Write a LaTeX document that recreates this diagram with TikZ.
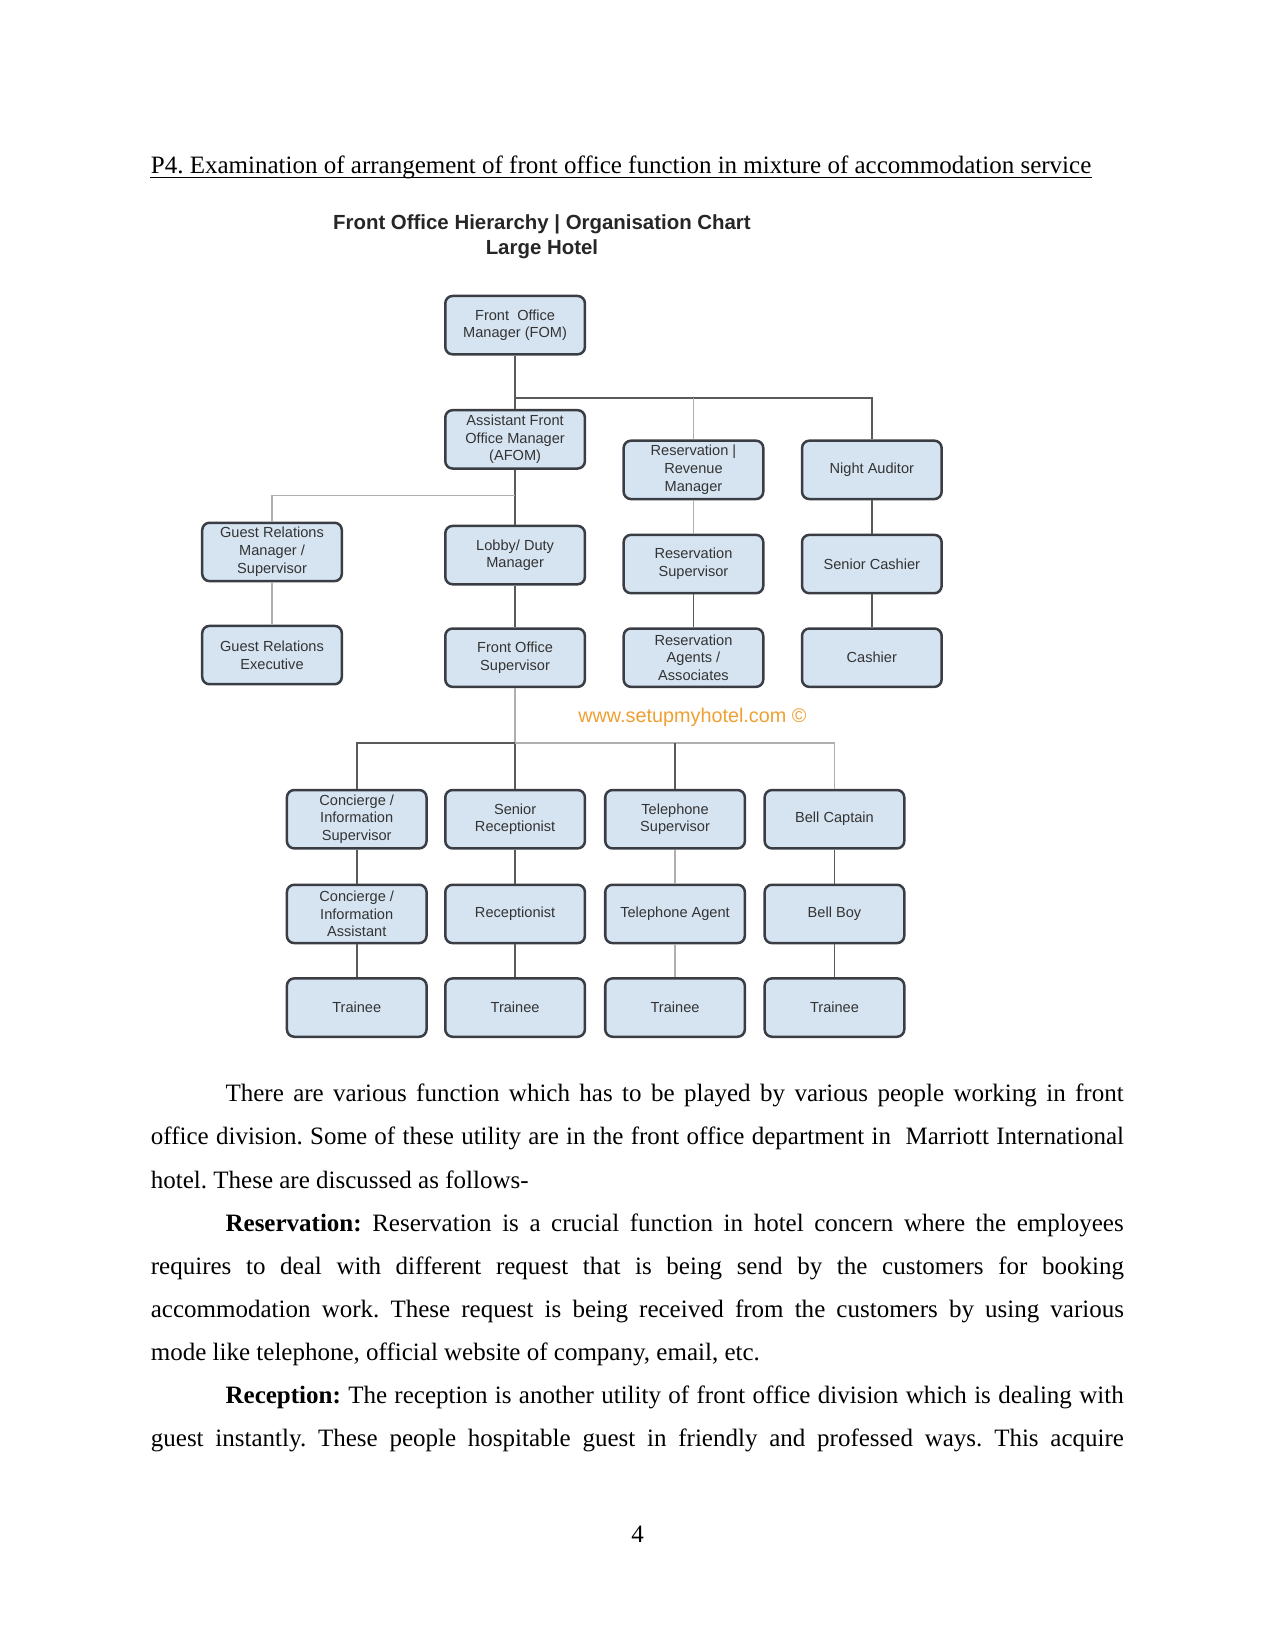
\documentclass[tikz,border=0pt]{standalone}
\usepackage{fontspec}
\setmainfont{Liberation Serif}
\newfontfamily\chartfont{Liberation Sans}
\definecolor{boxfill}{RGB}{214,228,242}
\definecolor{boxedge}{RGB}{58,62,68}
\definecolor{linkdark}{RGB}{90,90,90}
\definecolor{linklight}{RGB}{175,175,175}
\definecolor{wmcol}{RGB}{240,160,50}
\frenchspacing
\begin{document}
\begin{tikzpicture}[x=0.505pt,y=-0.505pt,
  role/.style={draw=boxedge, line width=1.2pt, fill=boxfill, rounded corners=3.5pt,
    minimum width=67pt, minimum height=28pt, inner sep=0pt, align=center,
    font=\chartfont\fontsize{7}{8.5}\selectfont, text=black!80},
  link/.style={draw=linkdark, line width=0.8pt},
  linkl/.style={draw=linklight, line width=0.8pt},
  bodyline/.style={anchor=base west, inner sep=0pt, font=\fontsize{12}{14}\selectfont}]
\useasboundingbox (0,0) rectangle (1212,1568);
\fill[white] (0,0) rectangle (1212,1568);

% heading
\node[bodyline] (title) at (143,165) {P4. Examination of arrangement of front office function in mixture of accommodation service};
\draw[line width=0.6pt] ([yshift=-1.8pt]title.base west) -- ([yshift=-1.8pt]title.base east);

% chart title
\node[font=\chartfont\bfseries\fontsize{9.8}{12}\selectfont, align=center, text=black!85] (ctitle) at (515,225)
  {Front Office Hierarchy | Organisation Chart\\Large Hotel};

% boxes
\node[role] (fom)    at (489.5,309)   {Front\ \ Office\\Manager (FOM)};
\node[role] (afom)   at (489.5,417.5) {Assistant Front\\Office Manager\\(AFOM)};
\node[role] (res)    at (659,446.5)   {Reservation |\\Revenue\\Manager};
\node[role] (night)  at (828.5,446.5) {Night Auditor};
\node[role] (grm)    at (258.5,524.5) {Guest Relations\\Manager /\\Supervisor};
\node[role] (lobby)  at (489.5,527.5) {Lobby/ Duty\\Manager};
\node[role] (ressup) at (659,536)     {Reservation\\Supervisor};
\node[role] (scash)  at (828.5,536)   {Senior Cashier};
\node[role] (gre)    at (258.5,622.5) {Guest Relations\\Executive};
\node[role] (fos)    at (489.5,625)   {Front Office\\Supervisor};
\node[role] (resag)  at (659,625)     {Reservation\\Agents /\\Associates};
\node[role] (cash)   at (828.5,625)   {Cashier};

\node[font=\chartfont\fontsize{9.5}{11}\selectfont, text=wmcol] (wm) at (658,682) {www.setupmyhotel.com \textcopyright};

\node[role] (cis)    at (339,778.5)   {Concierge /\\Information\\Supervisor};
\node[role] (srec)   at (489.5,778.5) {Senior\\Receptionist};
\node[role] (tsup)   at (641.5,778.5) {Telephone\\Supervisor};
\node[role] (bcap)   at (793,778.5)   {Bell Captain};
\node[role] (cia)    at (339,868.5)   {Concierge /\\Information\\Assistant};
\node[role] (recep)  at (489.5,868.5) {Receptionist};
\node[role] (tag)    at (641.5,868.5) {Telephone Agent};
\node[role] (bboy)   at (793,868.5)   {Bell Boy};
\node[role] (tr1)    at (339,957.5)   {Trainee};
\node[role] (tr2)    at (489.5,957.5) {Trainee};
\node[role] (tr3)    at (641.5,957.5) {Trainee};
\node[role] (tr4)    at (793,957.5)   {Trainee};

% connectors
\coordinate (j1) at (489.5,378);
\coordinate (j2) at (489.5,471);
\coordinate (j3) at (489.5,706);
\draw[link] (fom) -- (afom);
\draw[link] (j1) -| (night.north);
\draw[linkl] (res.north) -- (res.north |- j1);
\draw[link] (afom) -- (lobby);
\draw[linkl] (j2) -| (grm.north);
\draw[linkl] (grm) -- (gre);
\draw[link] (lobby) -- (fos);
\draw[linkl] (res) -- (ressup);
\draw[link] (ressup) -- (resag);
\draw[link] (night) -- (scash);
\draw[link] (scash) -- (cash);
\draw[linkl] (fos.south) -- (j3);
\draw[link] (j3) -| (cis.north);
\draw[link] (j3) -- (srec.north);
\draw[linkl] (j3) -| (bcap.north);
\draw[link] (tsup.north) -- (tsup.north |- j3);
\draw[link] (cis) -- (cia);
\draw[link] (cia) -- (tr1);
\draw[link] (srec) -- (recep);
\draw[link] (recep) -- (tr2);
\draw[linkl] (tsup) -- (tag);
\draw[linkl] (tag) -- (tr3);
\draw[link] (bcap) -- (bboy);
\draw[link] (bboy) -- (tr4);

% body text
\node[bodyline] (l1) at (214,1047) {\makebox[431pt][s]{There are various function which has to be played by various people working in front}};
\node[bodyline] (l2) at (143,1088) {\makebox[467pt][s]{office division. Some of these utility are in the front office department in\ \ Marriott International}};
\node[bodyline] (l3) at (143,1129) {hotel. These are discussed as follows-};
\node[bodyline] (l4) at (214,1170) {\makebox[431pt][s]{\textbf{Reservation:} Reservation is a crucial function in hotel concern where the employees}};
\node[bodyline] (l5) at (143,1211) {\makebox[467pt][s]{requires to deal with different request that is being send by the customers for booking}};
\node[bodyline] (l6) at (143,1252) {\makebox[467pt][s]{accommodation work. These request is being received from the customers by using various}};
\node[bodyline] (l7) at (143,1293) {mode like telephone, official website of company, email, etc.};
\node[bodyline] (l8) at (214,1334) {\makebox[431pt][s]{\textbf{Reception:} The reception is another utility of front office division which is dealing with}};
\node[bodyline] (l9) at (143,1375) {\makebox[467pt][s]{guest instantly. These people hospitable guest in friendly and professed ways. This acquire}};
\node[font=\fontsize{12}{14}\selectfont, inner sep=0pt] (pg) at (606,1458) {4};
\end{tikzpicture}
\end{document}
